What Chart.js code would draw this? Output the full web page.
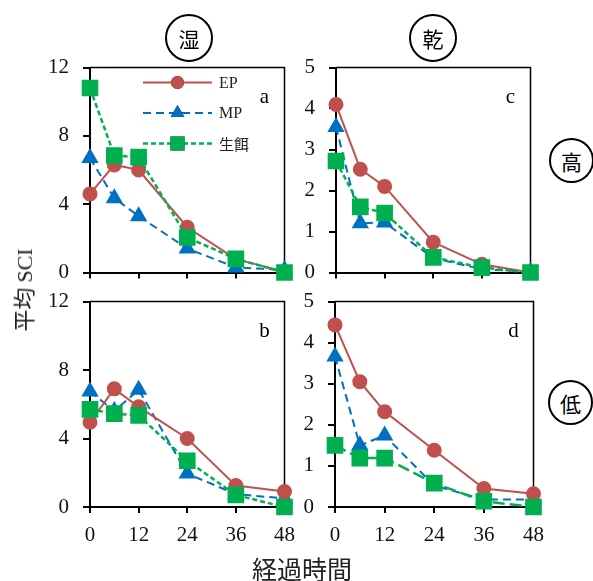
<!DOCTYPE html>
<html>
<head>
<meta charset="utf-8">
<script src="https://cdn.jsdelivr.net/npm/chart.js@4.4.0/dist/chart.umd.min.js"></script>
<style>
  body { margin: 0; background: #fff; width: 593px; height: 581px; position: relative; overflow: hidden; }
  canvas { position: absolute; }
  .circ { position: absolute; border: 2px solid #000; border-radius: 50%; box-sizing: border-box;
          font-family: "Noto Sans CJK JP"; font-size: 21px; display: flex; align-items: center; justify-content: center; }
  .lbl { position: absolute; font-family: "Noto Sans CJK JP", "Liberation Serif"; color: #222; white-space: nowrap; }
</style>
</head>
<body>
<canvas id="pa"></canvas>
<canvas id="pb"></canvas>
<canvas id="pc"></canvas>
<canvas id="pd"></canvas>

<div class="circ" style="left:165px;top:14px;width:48px;height:48px;">湿</div>
<div class="circ" style="left:409px;top:14px;width:48px;height:48px;">乾</div>
<div class="circ" style="left:549px;top:138px;width:45px;height:45px;">高</div>
<div class="circ" style="left:548px;top:380px;width:45px;height:45px;">低</div>

<div class="lbl" style="left:22px;top:290px;font-size:22px;transform:translate(-50%,-50%) rotate(-90deg);">平均 <span style="font-family:'Liberation Serif'">SCI</span></div>
<div class="lbl" style="left:302px;top:568px;font-size:25px;transform:translate(-50%,-50%);">経過時間</div>

<script>
// 経過時間 (h)
const hours = [0, 6, 12, 24, 36, 48];
const seriesNames = ["EP", "MP", "生餌"];

// a: 湿・高
const wetHighEP = [4.6, 6.3, 6.0, 2.65, 0.78, 0.05];
const wetHighMP = [6.7, 4.35, 3.3, 1.4, 0.3, 0.15];
const wetHighRaw = [10.8, 6.85, 6.75, 2.05, 0.8, 0.0];

// b: 湿・低
const wetLowEP = [4.95, 6.9, 5.85, 4.0, 1.25, 0.9];
const wetLowMP = [6.75, 5.6, 6.85, 1.95, 0.75, 0.5];
const wetLowRaw = [5.7, 5.45, 5.35, 2.7, 0.7, 0.0];

// c: 乾・高
const dryHighEP = [4.1, 2.52, 2.1, 0.74, 0.2, 0.0];
const dryHighMP = [3.55, 1.2, 1.22, 0.35, 0.08, 0.02];
const dryHighRaw = [2.72, 1.6, 1.45, 0.37, 0.12, 0.0];

// d: 乾・低
const dryLowEP = [4.43, 3.05, 2.32, 1.38, 0.45, 0.32];
const dryLowMP = [3.66, 1.5, 1.74, 0.52, 0.18, 0.18];
const dryLowRaw = [1.5, 1.19, 1.19, 0.58, 0.14, 0.0];

const RED = "#C0504D", BLUE = "#0070C0", GREEN = "#00B050";
const serif = "'Liberation Serif', 'Times New Roman', serif";

function pts(vals) {
  return vals.map((v, i) => ({ x: hours[i], y: v }));
}

function makeSets(ep, mp, raw, greenDash) {
  return [
    { label: seriesNames[0], data: pts(ep), borderColor: RED, backgroundColor: RED, borderWidth: 2,
      pointStyle: "circle", pointRadius: 6.5, clip: false, order: 1 },
    { label: seriesNames[1], data: pts(mp), borderColor: BLUE, backgroundColor: BLUE, borderWidth: 2,
      borderDash: [8, 5], pointStyle: "triangle", pointRadius: 8, clip: false, order: 2 },
    { label: seriesNames[2], data: pts(raw), borderColor: GREEN, backgroundColor: GREEN, borderWidth: 2.5,
      borderDash: greenDash, pointStyle: "rect", pointRadius: 10, clip: false, order: 0 }
  ];
}

// frame, panel letter, legend
const panelDeco = {
  id: "panelDeco",
  beforeDatasetsDraw(chart) {
    const { ctx, chartArea: a } = chart;
    ctx.save();
    ctx.strokeStyle = "#000";
    ctx.lineWidth = 1.5;
    ctx.beginPath();
    ctx.moveTo(a.left, a.top);
    ctx.lineTo(a.right, a.top);
    ctx.lineTo(a.right, a.bottom);
    ctx.stroke();
    const o = chart.options.plugins.panelDeco;
    ctx.fillStyle = "#000";
    ctx.font = "21px " + serif;
    ctx.textAlign = "center";
    ctx.textBaseline = "middle";
    ctx.fillText(o.letter, a.right - 20, a.top + 30);
    if (o.legend) {
      chart.data.datasets.forEach((ds, i) => {
        const y = a.top + 15 + i * 30.5;
        const x0 = a.left + 53, x1 = a.left + 122;
        ctx.save();
        ctx.strokeStyle = ds.borderColor;
        ctx.lineWidth = ds.borderWidth;
        ctx.setLineDash(ds.borderDash || []);
        ctx.beginPath();
        ctx.moveTo(x0, y);
        ctx.lineTo(x1, y);
        ctx.stroke();
        ctx.restore();
        Chart.helpers.drawPoint(ctx, {
          pointStyle: ds.pointStyle, radius: ds.pointRadius, borderWidth: 0, rotation: 0
        }, (x0 + x1) / 2, y);
        ctx.fillStyle = ds.borderColor;
        ctx.fill();
        ctx.fillStyle = "#222";
        ctx.font = (i === 2 ? "15px 'Noto Sans CJK JP'" : "16px " + serif);
        ctx.textAlign = "left";
        ctx.fillText(ds.label, x1 + 7, y + 1);
      });
    }
    ctx.restore();
  }
};

function makePanel(id, box, yMax, yStep, showX, sets, letter, legend) {
  const padL = 70, padT = 12, padR = 10, xH = showX ? 46 : 12;
  const cv = document.getElementById(id);
  const w = box.right - box.left + padL + padR;
  const h = box.bottom - box.top + padT + xH;
  cv.width = w; cv.height = h;
  cv.style.left = (box.left - padL) + "px";
  cv.style.top = (box.top - padT) + "px";
  cv.style.width = w + "px"; cv.style.height = h + "px";

  new Chart(cv, {
    type: "line",
    data: { datasets: sets },
    plugins: [panelDeco],
    options: {
      responsive: false,
      animation: false,
      devicePixelRatio: 1,
      layout: { padding: { top: padT, right: padR, left: 0, bottom: 0 } },
      plugins: {
        legend: { display: false },
        tooltip: { enabled: false },
        panelDeco: { letter: letter, legend: legend }
      },
      elements: { line: { tension: 0 } },
      scales: {
        x: {
          type: "linear", min: 0, max: 48,
          afterFit: (s) => { s.height = xH; s.paddingLeft = 0; s.paddingRight = 0; },
          ticks: { stepSize: 12, color: "#111", font: { family: serif, size: 21 }, padding: 10,
                   callback: (v) => showX ? v : "" },
          grid: { drawOnChartArea: false, tickLength: 6, color: "#000", lineWidth: 2 },
          border: { color: "#000", width: 2 }
        },
        y: {
          min: 0, max: yMax,
          afterFit: (s) => { s.width = padL; s.paddingTop = 0; s.paddingBottom = 0; },
          ticks: { stepSize: yStep, color: "#111", font: { family: serif, size: 21 }, padding: 14 },
          grid: { drawOnChartArea: false, tickLength: 7, color: "#000", lineWidth: 2 },
          border: { color: "#000", width: 2 }
        }
      }
    }
  });
}

makePanel("pa", { left: 90, top: 67, right: 287, bottom: 273 }, 12, 4, false,
  makeSets(wetHighEP, wetHighMP, wetHighRaw, [5, 3]), "a", true);
makePanel("pb", { left: 90, top: 301, right: 287, bottom: 507 }, 12, 4, true,
  makeSets(wetLowEP, wetLowMP, wetLowRaw, [5, 3]), "b", false);
makePanel("pc", { left: 336, top: 67, right: 533, bottom: 273 }, 5, 1, false,
  makeSets(dryHighEP, dryHighMP, dryHighRaw, [5, 3]), "c", false);
makePanel("pd", { left: 335, top: 301, right: 536, bottom: 507 }, 5, 1, true,
  makeSets(dryLowEP, dryLowMP, dryLowRaw, [12, 5]), "d", false);
</script>
</body>
</html>
